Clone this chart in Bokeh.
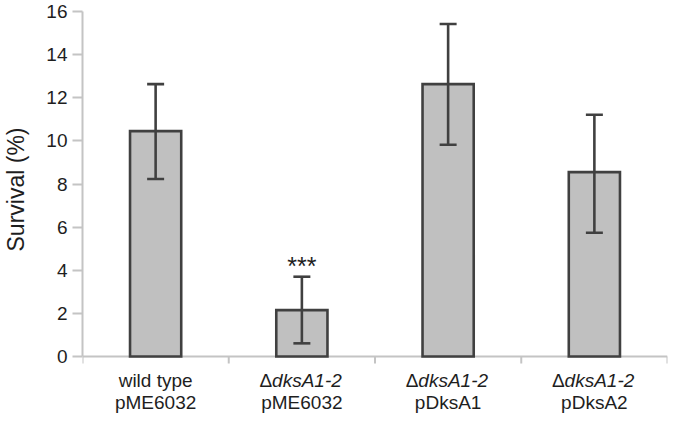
from bokeh.plotting import figure
from bokeh.layouts import column
from bokeh.models import Range1d, FixedTicker, Whisker, TeeHead, ColumnDataSource, Span
from bokeh.core.properties import value
from bokeh.embed import file_html
from bokeh.resources import INLINE

# ---- data ----
strain_prefix = ["", "\u0394", "\u0394", "\u0394"]
strain_name = ["wild type", "dksA1-2", "dksA1-2", "dksA1-2"]
strain_italic = [False, True, True, True]
plasmid = ["pME6032", "pME6032", "pDksA1", "pDksA2"]
survival = [10.45, 2.15, 12.63, 8.55]
err_high = [12.63, 3.70, 15.42, 11.21]
err_low = [8.23, 0.61, 9.82, 5.74]
significance = ["", "***", "", ""]
y_ticks = [0, 2, 4, 6, 8, 10, 12, 14, 16]

FONT = "Liberation Sans"
TEXT = "#1e1e1e"
DARK = "#404040"
AXIS = "#c4c4c4"

n = len(survival)
centers = [i + 0.5 for i in range(n)]
boundaries = list(range(n + 1))

W = 668
ML, MR = 78, 1
MT = 11                     # px above the value 16
PLOT_PX = 345               # px from 16 down to 0
EXT_PX = 11                 # px of frame kept below 0 (for the category ticks)
TOP_H = MT + PLOT_PX + EXT_PX
BOT_H = 413 - TOP_H
px_x = (W - ML - MR) / n
px_y = PLOT_PX / 16.0
y_start = -EXT_PX / px_y

x_range = Range1d(0, n)

# ---------------- main chart ----------------
p = figure(width=W, height=TOP_H, x_range=x_range, y_range=Range1d(y_start, 16),
           x_axis_type=None, output_backend="svg", toolbar_location=None,
           min_border_left=ML, min_border_right=MR,
           min_border_top=MT, min_border_bottom=0)
p.outline_line_color = None
p.xgrid.grid_line_color = None
p.ygrid.grid_line_color = None
p.background_fill_color = "white"
p.border_fill_color = "white"

src = ColumnDataSource(dict(x=centers, top=survival, hi=err_high, lo=err_low))

p.vbar(x="x", top="top", bottom=0, width=0.35, source=src, fill_color="#c0c0c0",
       line_color=DARK, line_width=2.6, line_join="miter")

whisk = Whisker(source=src, base="x", upper="hi", lower="lo", dimension="height",
                line_color=DARK, line_width=2.6,
                upper_head=TeeHead(size=17, line_color=DARK, line_width=2.6),
                lower_head=TeeHead(size=17, line_color=DARK, line_width=2.6),
                level="overlay")
p.add_layout(whisk)

# category axis: baseline at 0 and ticks at category boundaries
p.add_layout(Span(location=0, dimension="width", line_color=AXIS, line_width=2,
                  level="underlay"))
p.segment(x0=boundaries, y0=[0] * len(boundaries), x1=boundaries,
          y1=[-7 / px_y] * len(boundaries), line_color=AXIS, line_width=2)

ya = p.yaxis[0]
ya.bounds = (0, 16)
ya.ticker = FixedTicker(ticks=y_ticks)
ya.axis_line_color = AXIS
ya.axis_line_width = 2
ya.major_tick_line_color = AXIS
ya.major_tick_line_width = 2
ya.major_tick_out = 10
ya.major_tick_in = 0
ya.minor_tick_line_color = None
ya.major_label_text_font = FONT
ya.major_label_text_font_size = "19px"
ya.major_label_text_color = TEXT
ya.major_label_standoff = 5
ya.axis_label = "Survival (%)"
ya.axis_label_text_font = FONT
ya.axis_label_text_font_size = "23px"
ya.axis_label_text_font_style = "normal"
ya.axis_label_text_color = TEXT
ya.axis_label_standoff = 14

# significance stars
sx = [c for c, s in zip(centers, significance) if s]
sy = [h + 0.48 for h, s in zip(err_high, significance) if s]
st = [s for s in significance if s]
p.text(x=sx, y=sy, text=st, text_align="center", text_baseline="alphabetic",
       text_font=value(FONT), text_font_size="25px", text_color=TEXT)

# ---------------- category labels strip ----------------
q = figure(width=W, height=BOT_H, x_range=x_range, y_range=Range1d(0, BOT_H),
           x_axis_type=None, y_axis_type=None,
           output_backend="svg", toolbar_location=None,
           min_border_left=ML, min_border_right=MR,
           min_border_top=0, min_border_bottom=0)
q.grid.visible = False
q.outline_line_color = None
q.background_fill_color = "white"
q.border_fill_color = "white"

line1_y = BOT_H - 13
line2_y = BOT_H - 35
split = 30 / px_x
up_x, up_t, it_x, it_t, pre_x, pre_t = [], [], [], [], [], []
for c, pre, name, ital in zip(centers, strain_prefix, strain_name, strain_italic):
    if ital:
        pre_x.append(c - split); pre_t.append(pre)
        it_x.append(c - split); it_t.append(name)
    else:
        up_x.append(c); up_t.append(pre + name)

common = dict(text_font=value(FONT), text_font_size="19px", text_color=TEXT,
              text_baseline="middle")
q.text(x=up_x, y=[line1_y] * len(up_x), text=up_t, text_align="center", **common)
q.text(x=pre_x, y=[line1_y] * len(pre_x), text=pre_t, text_align="right", **common)
q.text(x=it_x, y=[line1_y] * len(it_x), text=it_t, text_align="left",
       text_font_style="italic", **common)
q.text(x=centers, y=[line2_y] * n, text=plasmid, text_align="center", **common)

layout = column(p, q, spacing=0)
open("out.html", "w").write(file_html(layout, INLINE))
